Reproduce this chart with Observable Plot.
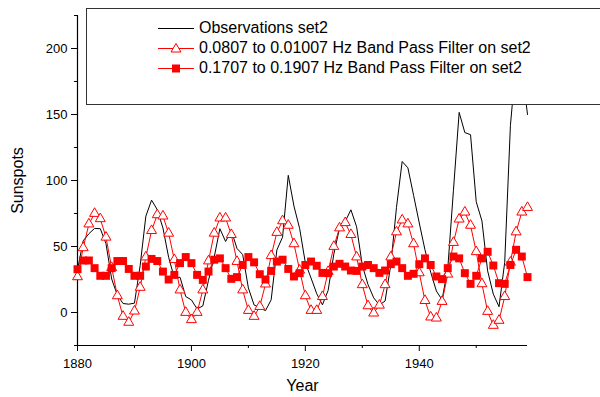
<!DOCTYPE html>
<html><head><meta charset="utf-8">
<script src="https://cdn.jsdelivr.net/npm/d3@7"></script>
<script src="https://cdn.jsdelivr.net/npm/@observablehq/plot@0.6"></script>
<style>
body{margin:0;background:#fff;}
#wrap{position:relative;width:600px;height:397px;overflow:hidden;font-family:Arial,"Liberation Sans",sans-serif;}
#legend{position:absolute;left:86px;top:8px;width:600px;height:95px;background:#fff;border:1px solid #333;}
.row{position:absolute;left:0;height:20px;width:520px;font-size:16px;line-height:20px;white-space:nowrap;color:#000;}
.row svg{position:absolute;left:71px;top:0;}
.row span{position:absolute;left:112px;top:0;}
</style></head>
<body><div id="wrap"></div>
<script>
const years = [1880,1881,1882,1883,1884,1885,1886,1887,1888,1889,
1890,1891,1892,1893,1894,1895,1896,1897,1898,1899,
1900,1901,1902,1903,1904,1905,1906,1907,1908,1909,
1910,1911,1912,1913,1914,1915,1916,1917,1918,1919,
1920,1921,1922,1923,1924,1925,1926,1927,1928,1929,
1930,1931,1932,1933,1934,1935,1936,1937,1938,1939,
1940,1941,1942,1943,1944,1945,1946,1947,1948,1949,
1950,1951,1952,1953,1954,1955,1956,1957,1958,1959];

const observations = [32.3,54.3,59.7,63.7,63.5,52.2,25.4,13.1,6.8,6.3,
7.1,35.6,73.0,85.1,78.0,64.0,41.8,26.2,26.7,12.1,
9.5,2.7,5.0,24.4,42.0,63.5,53.8,62.0,48.5,43.9,
18.6,5.7,3.6,1.4,9.6,47.4,57.1,103.9,80.6,63.6,
37.6,26.1,14.2,5.8,16.7,44.3,63.9,69.0,77.8,64.9,
35.7,21.2,11.1,5.7,8.7,36.1,79.7,114.4,109.6,88.8,
67.8,47.5,30.6,16.3,9.6,33.2,92.6,151.6,136.3,134.7,
83.9,69.4,31.5,13.9,4.4,38.0,141.7,190.2,184.8,150];

const lowBand = [27,49,67,75,71,57,34,12.6,-3,-7.5,
1,19,42,62,74,73,60,40,17,0,
-5.5,0,17,39,60,71.5,71.5,59,38.6,17,
1.5,-3,4.5,21.5,43,60.6,69.4,66,52,32,
12.6,1.5,1.5,12,31,50,64,68,59,42,
21,5,-0.5,5.5,21,42,61,70,67,52,
30,9,-3.5,-4.3,8.3,29,53,70.7,76,66,
46,21.7,0.75,-9.8,-6,12,38,61,76,79.5];

const highBand = [32.8,39.4,39.4,33.6,27.8,27.8,33.6,39,39,33,
27.8,27.8,34.8,40.6,39,31,25,28.5,37.4,42,
37.4,28.5,24.7,31,40,41,33.6,25.5,26.8,36,
42,38,29,25,31.5,38.6,40,33,27.3,29.8,
36,38.6,35.4,30,29.8,34.8,36.9,34.8,31.8,31.5,
34.8,36,33.6,30,31.8,36.6,38.6,33.6,27.8,29.3,
36.6,41,36,27.3,25.3,33.6,42.4,41,29.8,21.7,
27.8,41,46,35.6,22.2,21.7,36,47.5,42.4,26.8];

const xMajor = [1880,1900,1920,1940];
const xMinor = [1890,1910,1930,1950];
const yMajor = [0,50,100,150,200];
const yMinor = [-25,25,75,125,175,225];
const seriesNames = ["Observations set2","0.0807 to 0.01007 Hz Band Pass Filter on set2","0.1707 to 0.1907 Hz Band Pass Filter on set2"];

const data = years.map((year,i)=>({year, obs:observations[i], low:lowBand[i], high:highBand[i]}));

const chart = Plot.plot({
  width:600, height:397,
  marginLeft:77, marginRight:73, marginTop:15, marginBottom:52,
  style:{fontFamily:'Arial, "Liberation Sans", sans-serif', fontSize:"13px", color:"#000", background:"#fff", overflow:"visible"},
  x:{domain:[1880,1959], label:null},
  y:{domain:[-25,225], label:null},
  marks:[
    Plot.axisY(yMajor,{tickSize:6, tickPadding:4, fontSize:13, label:null, stroke:"#000"}),
    Plot.axisY(yMinor,{tickSize:3, tickFormat:()=>"", label:null, stroke:"#000"}),
    Plot.axisX(xMajor,{tickSize:6, tickPadding:7, fontSize:13, tickFormat:d=>String(d), label:null, stroke:"#000"}),
    Plot.axisX(xMinor,{tickSize:3, tickFormat:()=>"", label:null, stroke:"#000"}),
    Plot.ruleX([1880],{stroke:"#000", strokeWidth:1.2}),
    Plot.ruleY([-25],{stroke:"#000", strokeWidth:1.2}),
    Plot.line(data,{x:"year", y:"obs", stroke:"#000", strokeWidth:1}),
    Plot.line(data,{x:"year", y:"low", stroke:"#f00", strokeWidth:1}),
    Plot.dot(data,{x:"year", y:"low", symbol:"triangle", r:3.7, stroke:"#f00", fill:"#fff", strokeWidth:1}),
    Plot.line(data,{x:"year", y:"high", stroke:"#f00", strokeWidth:1}),
    Plot.dot(data,{x:"year", y:"high", symbol:"square", r:4.5, fill:"#f00", stroke:"none"}),
    Plot.text(["Sunspots"],{frameAnchor:"left", dx:-60, rotate:-90, fontSize:16, textAnchor:"middle", lineAnchor:"middle", fill:"#000"}),
    Plot.text(["Year"],{frameAnchor:"bottom", dy:40, fontSize:16, textAnchor:"middle", lineAnchor:"middle", fill:"#000"})
  ]
});

const wrap = document.getElementById("wrap");
wrap.appendChild(chart);

// legend overlay
const legend = document.createElement("div");
legend.id = "legend";
const swatches = [
  '<svg width="36" height="20"><line x1="0" x2="36" y1="10.5" y2="10.5" stroke="#000" stroke-width="1"/></svg>',
  '<svg width="36" height="20"><line x1="0" x2="36" y1="10.5" y2="10.5" stroke="#f00" stroke-width="1"/><path d="M18,5.5L23,14L13,14Z" fill="#fff" stroke="#f00" stroke-width="1"/></svg>',
  '<svg width="36" height="20"><line x1="0" x2="36" y1="10.5" y2="10.5" stroke="#f00" stroke-width="1"/><rect x="14" y="6.5" width="8" height="8" fill="#f00"/></svg>'
];
const rowTops = [8.5, 28.5, 48.5];
seriesNames.forEach((name,i)=>{
  const row = document.createElement("div");
  row.className = "row";
  row.style.top = rowTops[i] + "px";
  row.innerHTML = swatches[i] + "<span></span>";
  row.querySelector("span").textContent = name;
  legend.appendChild(row);
});
wrap.appendChild(legend);
</script>
</body></html>
